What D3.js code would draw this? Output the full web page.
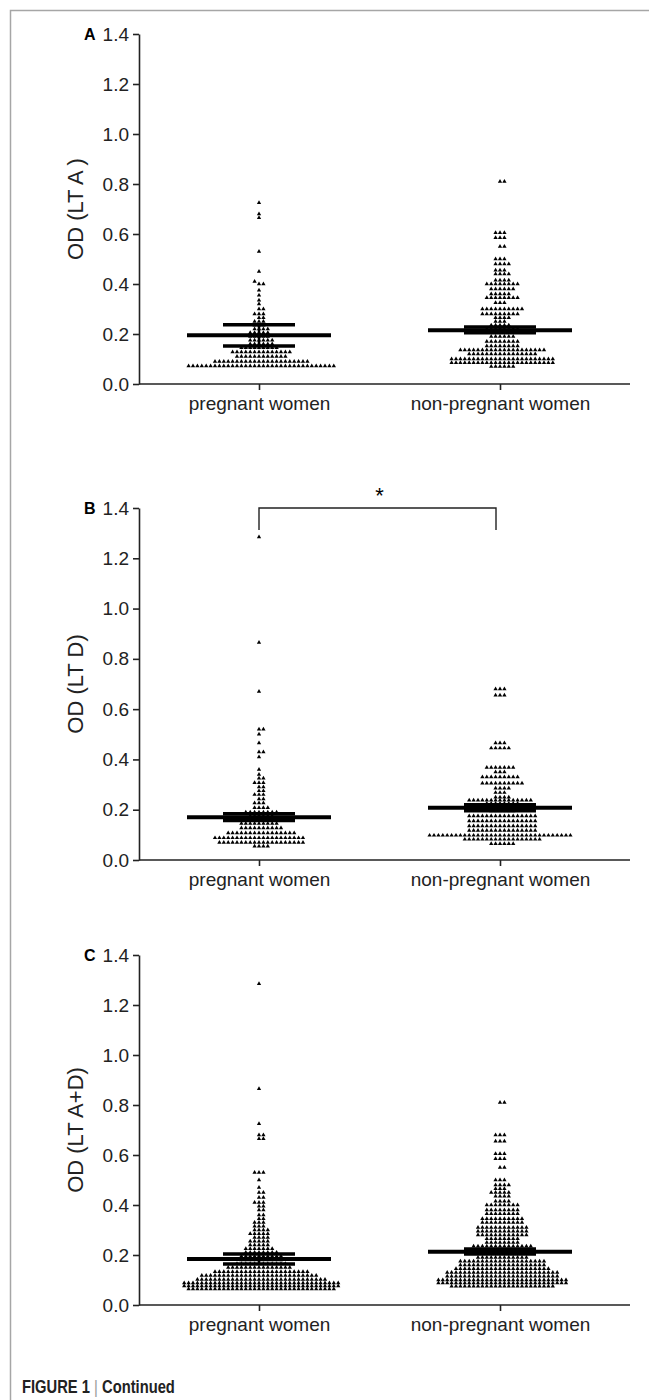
<!DOCTYPE html>
<html>
<head>
<meta charset="utf-8">
<script src="https://cdn.jsdelivr.net/npm/d3@7"></script>
<style>
  body { margin: 0; background: #fff; }
  svg { display: block; font-family: "Liberation Sans", Arial, sans-serif; }
</style>
</head>
<body>
<script>
const groups = ['pregnant women', 'non-pregnant women'];
const yTicks = [0, 0.2, 0.4, 0.6, 0.8, 1.0, 1.2, 1.4];

// each entry: [OD value, number of dots drawn at that value]
const ltaPregnant = [[0.725,1],[0.68,1],[0.665,1],[0.53,1],[0.45,1],[0.41,1],[0.40,2],[0.375,1],[0.355,1],
  [0.335,1],[0.32,1],[0.30,2],[0.28,3],[0.265,2],[0.25,3],[0.235,3],[0.22,4],[0.205,5],[0.19,5],[0.175,6],
  [0.16,6],[0.145,9],[0.128,14],[0.11,12],[0.09,22],[0.072,34]];
const ltaNonPregnant = [[0.81,2],[0.605,3],[0.585,3],[0.55,2],[0.50,3],[0.48,4],[0.455,3],[0.44,4],[0.415,4],
  [0.40,8],[0.38,6],[0.36,5],[0.345,8],[0.325,3],[0.30,10],[0.28,9],[0.265,4],[0.25,3],[0.235,5],[0.22,8],
  [0.205,8],[0.19,6],[0.17,8],[0.152,8],[0.136,20],[0.12,16],[0.10,24],[0.085,24],[0.07,6]];
const ltdPregnant = [[1.285,1],[0.865,1],[0.67,1],[0.52,2],[0.50,1],[0.465,1],[0.43,2],[0.41,1],[0.36,1],
  [0.34,1],[0.325,2],[0.307,3],[0.29,2],[0.275,2],[0.26,3],[0.243,2],[0.227,3],[0.208,4],[0.19,8],[0.175,6],
  [0.16,6],[0.145,9],[0.127,10],[0.107,16],[0.088,21],[0.07,20],[0.055,4]];
const ltdNonPregnant = [[0.68,3],[0.655,3],[0.465,3],[0.445,5],[0.368,7],[0.35,3],[0.33,9],[0.305,10],
  [0.285,4],[0.268,3],[0.25,4],[0.238,15],[0.225,8],[0.21,10],[0.195,6],[0.175,16],[0.155,16],[0.135,16],
  [0.117,16],[0.098,33],[0.082,18],[0.065,6]];
const ltadPregnant = [[1.285,1],[0.865,1],[0.725,1],[0.68,2],[0.665,2],[0.53,3],[0.50,1],[0.47,1],[0.45,2],
  [0.43,2],[0.41,3],[0.395,2],[0.38,2],[0.36,2],[0.345,2],[0.33,3],[0.315,3],[0.30,4],[0.285,5],[0.27,4],
  [0.255,5],[0.24,5],[0.225,7],[0.21,8],[0.195,10],[0.18,10],[0.165,12],[0.15,15],[0.133,22],[0.118,27],
  [0.102,30],[0.088,36],[0.076,36],[0.064,34]];
const ltadNonPregnant = [[0.81,2],[0.68,3],[0.655,3],[0.605,3],[0.585,3],[0.55,2],[0.50,3],[0.48,4],[0.465,3],
  [0.45,5],[0.435,4],[0.415,4],[0.40,8],[0.38,8],[0.365,8],[0.345,10],[0.33,10],[0.31,12],[0.295,12],
  [0.28,12],[0.265,8],[0.25,8],[0.235,14],[0.22,14],[0.205,14],[0.19,12],[0.175,20],[0.16,20],[0.145,22],
  [0.13,26],[0.115,26],[0.10,30],[0.088,30],[0.075,24]];

// mean and error bar limits per group [pregnant, non-pregnant]
const ltaMean = [0.195, 0.215], ltaLow = [0.152, 0.205], ltaHigh = [0.237, 0.228];
const ltdMean = [0.17, 0.208], ltdLow = [0.157, 0.196], ltdHigh = [0.184, 0.22];
const ltadMean = [0.184, 0.213], ltadLow = [0.164, 0.204], ltadHigh = [0.204, 0.224];

const panels = [
  { letter: 'A', title: 'OD (LT A )', top: 34, bottom: 384, data: [ltaPregnant, ltaNonPregnant],
    mean: ltaMean, low: ltaLow, high: ltaHigh },
  { letter: 'B', title: 'OD (LT  D)', top: 508, bottom: 860, data: [ltdPregnant, ltdNonPregnant],
    mean: ltdMean, low: ltdLow, high: ltdHigh, star: true },
  { letter: 'C', title: 'OD (LT A+D)', top: 955, bottom: 1305, data: [ltadPregnant, ltadNonPregnant],
    mean: ltadMean, low: ltadLow, high: ltadHigh }
];

const axisLeft = 139, axisRight = 630;
const gap = 4.4;

const svg = d3.select('body').append('svg')
  .attr('width', 649)
  .attr('height', 1400);

// page frame
svg.append('path')
  .attr('d', 'M10.5,1400V10.5H649')
  .attr('fill', 'none')
  .attr('stroke', '#a6a6a6')
  .attr('stroke-width', 1.5);

const x = d3.scalePoint()
  .domain(groups)
  .range([259, 500]);

const expand = (rows) => rows.flatMap(([v, n]) => d3.range(n).map(() => v));

// simple beeswarm: push each dot sideways until it clears its neighbours
const swarm = (values, y) => {
  const placed = [];
  values.slice().sort((a, b) => a - b).forEach((v) => {
    const py = y(v);
    const near = placed.filter((p) => Math.abs(p.y - py) < 2.9);
    const cands = [0];
    near.forEach((p) => cands.push(p.dx + gap, p.dx - gap));
    cands.sort((a, b) => Math.abs(a) - Math.abs(b) || b - a);
    const dx = cands.find((c) => near.every((p) => Math.abs(p.dx - c) >= gap - 1e-6));
    placed.push({ v, y: py, dx });
  });
  return placed;
};

const tri = d3.symbol().type(d3.symbolTriangle).size(8);

panels.forEach((p) => {
  const y = d3.scaleLinear().domain([0, 1.4]).range([p.bottom, p.top]);
  const g = svg.append('g');

  // dots
  p.data.forEach((rows, i) => {
    const cx = x(groups[i]);
    g.append('g').selectAll('path')
      .data(swarm(expand(rows), y))
      .enter()
      .append('path')
      .attr('d', tri)
      .attr('transform', (d) => `translate(${cx + d.dx},${d.y})`)
      .attr('fill', '#000');
  });

  // mean and error bars
  groups.forEach((grp, i) => {
    const cx = x(grp);
    const bars = g.append('g').attr('stroke', '#000');
    bars.append('line')
      .attr('x1', cx).attr('x2', cx)
      .attr('y1', y(p.low[i])).attr('y2', y(p.high[i]))
      .attr('stroke-width', 2.5);
    [p.low[i], p.high[i]].forEach((v) => {
      bars.append('line')
        .attr('x1', cx - 36).attr('x2', cx + 36)
        .attr('y1', y(v)).attr('y2', y(v))
        .attr('stroke-width', 3.5);
    });
    bars.append('line')
      .attr('x1', cx - 72).attr('x2', cx + 72)
      .attr('y1', y(p.mean[i])).attr('y2', y(p.mean[i]))
      .attr('stroke-width', 4);
  });

  // y axis
  const ya = g.append('g')
    .attr('transform', `translate(${axisLeft},0)`)
    .call(d3.axisLeft(y).tickValues(yTicks).tickFormat(d3.format('.1f')).tickSize(6).tickSizeOuter(0));
  ya.selectAll('line, path').attr('stroke', '#222').attr('stroke-width', 1.6);
  ya.selectAll('text').attr('font-size', 19).attr('fill', '#222').attr('dx', -1);

  // x axis
  const xa = g.append('g')
    .attr('transform', `translate(0,${p.bottom})`)
    .call(d3.axisBottom(x).tickSize(6).tickSizeOuter(0).tickPadding(7));
  xa.select('.domain').attr('d', `M${axisLeft},0H${axisRight}`);
  xa.selectAll('line, path').attr('stroke', '#222').attr('stroke-width', 1.6);
  xa.selectAll('text').attr('font-size', 19).attr('fill', '#222');

  // axis title
  g.append('text')
    .attr('transform', `translate(83,${(p.top + p.bottom) / 2}) rotate(-90)`)
    .attr('text-anchor', 'middle')
    .attr('font-size', 22)
    .attr('fill', '#222')
    .text(p.title);

  // panel letter
  g.append('text')
    .attr('x', 84).attr('y', p.top + 6)
    .attr('font-size', 16)
    .attr('font-weight', 'bold')
    .text(p.letter);

  if (p.star) {
    const by = p.top;
    g.append('path')
      .attr('d', `M${x(groups[0])},${by + 22}V${by}H${x(groups[1]) - 4}V${by + 22}`)
      .attr('fill', 'none')
      .attr('stroke', '#222')
      .attr('stroke-width', 1.4);
    g.append('text')
      .attr('x', (x(groups[0]) + x(groups[1])) / 2)
      .attr('y', by - 5)
      .attr('text-anchor', 'middle')
      .attr('font-size', 22)
      .text('*');
  }
});

// caption
const cap = svg.append('text')
  .attr('transform', 'translate(22,1393) scale(0.82,1)')
  .attr('font-weight', 'bold')
  .attr('font-size', 18)
  .attr('fill', '#222');
cap.append('tspan').text('FIGURE 1 ');
cap.append('tspan').attr('fill', '#999').attr('font-weight', 'normal').text('|');
cap.append('tspan').text(' Continued');
</script>
</body>
</html>
